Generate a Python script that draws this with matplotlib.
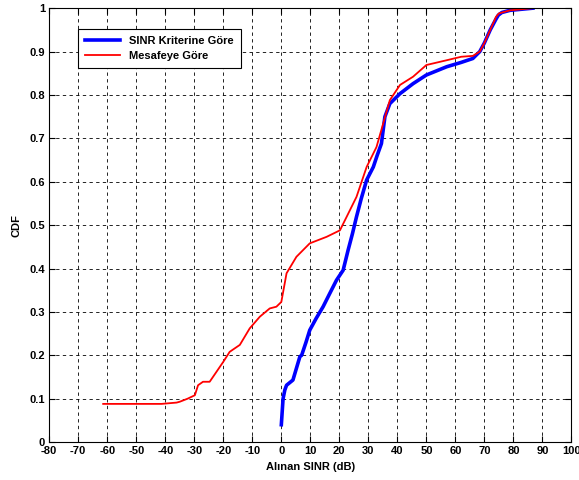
import matplotlib
matplotlib.use("Agg")
import matplotlib.pyplot as plt

plt.rcParams['font.family'] = ['Liberation Sans', 'DejaVu Sans']

# SINR kriterine gore (blue)
sinr_x = [0, 0.3, 0.6, 1.2, 1.8, 4, 5.2, 6.4, 7, 8.5, 9.8, 12, 14.4, 16.5, 19,
          21.3, 23, 24.5, 25.9, 27.5, 29.4, 31.7, 33, 34.5, 35.7, 37.4, 40.9,
          45.4, 50, 57, 62, 66, 68.4, 70, 72, 74, 74.8, 76, 78.8, 82, 86.7]
sinr_y = [0.04, 0.07, 0.1, 0.12, 0.131, 0.143, 0.17, 0.197, 0.2, 0.23, 0.258,
          0.285, 0.312, 0.34, 0.373, 0.396, 0.442, 0.48, 0.519, 0.56, 0.604,
          0.634, 0.66, 0.688, 0.75, 0.78, 0.803, 0.826, 0.846, 0.865, 0.875,
          0.884, 0.9, 0.92, 0.95, 0.975, 0.984, 0.99, 0.995, 0.997, 1.0]

# Mesafeye gore (red)
mesafe_x = [-61.4, -41.3, -36.1, -35, -32.3, -29.8, -28.7, -27, -24.7, -20,
            -17.8, -14.3, -10.9, -7.4, -4, -1.7, 0, 1.8, 5.2, 9.8, 15.6, 20.2,
            22.5, 25.9, 29.4, 32.8, 35.1, 37.4, 40.9, 45.4, 50, 57, 62, 66,
            68.4, 70, 72, 74, 75, 78.8, 86.7]
mesafe_y = [0.088, 0.088, 0.091, 0.093, 0.1, 0.108, 0.131, 0.139, 0.139, 0.185,
            0.208, 0.224, 0.262, 0.289, 0.308, 0.312, 0.323, 0.389, 0.427,
            0.458, 0.473, 0.488, 0.519, 0.565, 0.634, 0.680, 0.734, 0.788,
            0.823, 0.842, 0.869, 0.880, 0.888, 0.89, 0.9, 0.92, 0.95, 0.98,
            0.988, 0.995, 1.0]

xticks = list(range(-80, 101, 10))
yticks = [0, 0.1, 0.2, 0.3, 0.4, 0.5, 0.6, 0.7, 0.8, 0.9, 1]
ytick_labels = ['0', '0.1', '0.2', '0.3', '0.4', '0.5', '0.6', '0.7', '0.8', '0.9', '1']

fig = plt.figure(figsize=(5.79, 4.80), dpi=100)
ax = fig.add_axes([0.085, 0.079, 0.902, 0.904])

ax.plot(sinr_x, sinr_y, color='#0000ff', lw=2.6, label='SINR Kriterine Göre')
ax.plot(mesafe_x, mesafe_y, color='#ff0000', lw=1.3, label='Mesafeye Göre')

ax.set_xlim(-80, 100)
ax.set_ylim(0, 1)
ax.set_xticks(xticks)
ax.set_xticklabels([str(t) for t in xticks], fontweight='bold', fontsize=8)
ax.set_yticks(yticks)
ax.set_yticklabels(ytick_labels, fontweight='bold', fontsize=8)
ax.tick_params(direction='in', length=4, width=0.8, top=True, right=True, pad=3)
ax.grid(True, color='black', linestyle=(0, (4, 4)), linewidth=0.6)
for s in ax.spines.values():
    s.set_linewidth(0.8)

ax.set_xlabel('Alınan SINR (dB)', fontweight='bold', fontsize=8, labelpad=4)
ax.set_ylabel('CDF', fontweight='bold', fontsize=8, labelpad=6)

leg = ax.legend(loc='upper left', bbox_to_anchor=(0.045, 0.965), fancybox=False,
                edgecolor='black', framealpha=1, prop={'weight': 'bold', 'size': 8},
                handlelength=3.2, borderpad=0.6, labelspacing=0.5)
leg.get_frame().set_linewidth(0.8)

fig.savefig('out.png', dpi=100)
